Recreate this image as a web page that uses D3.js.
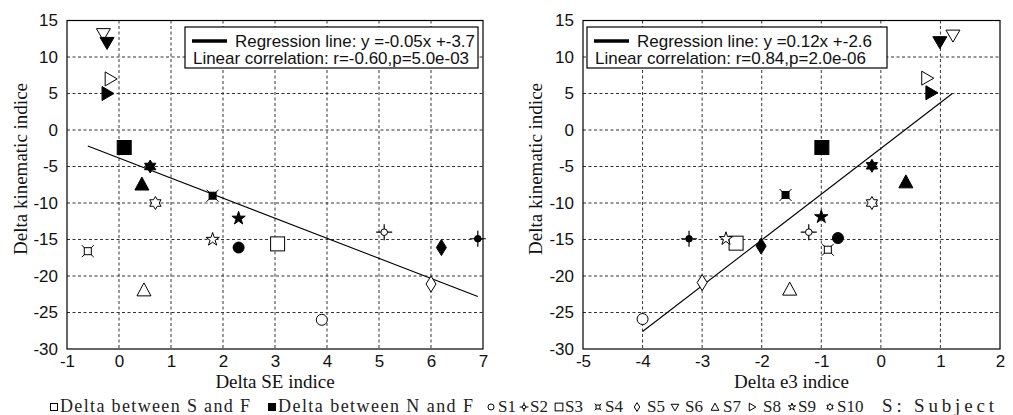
<!DOCTYPE html>
<html lang="en">
<head>
  <meta charset="UTF-8">
  <title>Delta kinematic indice</title>
  <style>
    body { margin: 0; background: #fff; }
    .tick text { font-family: "Liberation Sans", Arial, sans-serif; font-size: 17px; fill: #111; }
    .ttl { font-family: "Liberation Serif", "Times New Roman", serif; font-size: 19px; fill: #111; }
    .lg { font-family: "Liberation Sans", Arial, sans-serif; font-size: 17px; fill: #111; }
    .blg { font-family: "Liberation Serif", "Times New Roman", serif; font-size: 18px; fill: #222; }
  </style>
</head>
<body>
<svg width=1013 height=415 id="viz"></svg>
<script src="https://d3js.org/d3.v7.min.js"></script>
<script>
/* global d3 */

// subjects + marker shape of each one
const subjects = ["S1", "S2", "S3", "S4", "S5", "S6", "S7", "S8", "S9", "S10"];
const shapes = ["circle", "crossCircle", "square", "xSquare", "diamond", "triDown", "triUp", "triRight", "star", "hexagram"];

// left panel : Delta SE indice (open = S-F, filled = N-F)
const seSFx = [3.9, 5.1, 3.05, -0.6, 6.0, -0.3, 0.48, -0.17, 1.8, 0.7];
const seSFy = [-26, -14, -15.6, -16.6, -21.1, 13.2, -21.9, 7, -15, -10];
const seNFx = [2.3, 6.9, 0.1, 1.8, 6.2, -0.23, 0.44, -0.23, 2.3, 0.6];
const seNFy = [-16.1, -14.9, -2.4, -9, -16.1, 12, -7.4, 5, -12.1, -5];
const seFitX = [-0.6, 6.9];
const seFitY = [-2.2, -22.8];
const seText = ["Regression line: y =-0.05x +-3.7", "Linear correlation: r=-0.60,p=5.0e-03"];

// right panel : Delta e3 indice
const e3SFx = [-4.0, -1.21, -2.43, -0.89, -3.0, 1.21, -1.53, 0.77, -2.6, -0.15];
const e3SFy = [-25.9, -14, -15.5, -16.4, -20.9, 13, -21.8, 7.1, -14.9, -10];
const e3NFx = [-0.72, -3.22, -0.99, -1.6, -2.01, 0.99, 0.42, 0.84, -1.0, -0.15];
const e3NFy = [-14.8, -14.9, -2.4, -8.9, -15.9, 12.1, -7.1, 5.1, -11.9, -4.9];
const e3FitX = [-4.0, 1.2];
const e3FitY = [-27.6, 5.0];
const e3Text = ["Regression line: y =0.12x +-2.6", "Linear correlation: r=0.84,p=2.0e-06"];

const yTicks = [-30, -25, -20, -15, -10, -5, 0, 5, 10, 15];
const seTicks = [-1, 0, 1, 2, 3, 4, 5, 6, 7];
const e3Ticks = [-5, -4, -3, -2, -1, 0, 1, 2];

const legendLabels = ["Delta between S and F", "Delta between N and F"].concat(subjects).concat(["S: Subject"]);
const legendShapes = ["square", "square"].concat(shapes).concat([null]);
const legendFilled = [false, true, false, false, false, false, false, false, false, false, false, false, false];

let svg = d3.select("#viz");

function hexPath(r) {
  let pts = [];
  for (let i = 0; i < 12; i++) {
    let a = -Math.PI / 2 + i * Math.PI / 6;
    let rr = i % 2 === 0 ? r : r * 0.58;
    pts.push([rr * Math.cos(a), rr * Math.sin(a)]);
  }
  return "M" + pts.join("L") + "Z";
}

function marker(g, type, filled, s) {
  let fill = filled ? "#000" : "#fff";
  let m = g.append("g");
  let st = el => el.attr("fill", fill).attr("stroke", "#000").attr("stroke-width", 1);
  switch (type) {
    case "circle":
      st(m.append("circle").attr("r", 5.5 * s));
      break;
    case "crossCircle":
      m.append("path").attr("d", `M${-8 * s},0H${8 * s}M0,${-8 * s}V${8 * s}`).attr("stroke", "#000").attr("stroke-width", 1.2);
      st(m.append("circle").attr("r", 3.3 * s));
      break;
    case "square":
      st(m.append("rect").attr("x", -7 * s).attr("y", -7 * s).attr("width", 14 * s).attr("height", 14 * s));
      break;
    case "xSquare":
      m.append("path").attr("d", `M${-6 * s},${-6 * s}L${6 * s},${6 * s}M${-6 * s},${6 * s}L${6 * s},${-6 * s}`).attr("stroke", "#000").attr("stroke-width", 1);
      st(m.append("rect").attr("x", -3.5 * s).attr("y", -3.5 * s).attr("width", 7 * s).attr("height", 7 * s));
      break;
    case "diamond":
      st(m.append("path").attr("d", `M0,${-8 * s}L${5 * s},0L0,${8 * s}L${-5 * s},0Z`));
      break;
    case "triDown":
      st(m.append("path").attr("d", `M${-7 * s},${-5 * s}L${7 * s},${-5 * s}L0,${7 * s}Z`));
      break;
    case "triUp":
      st(m.append("path").attr("d", `M${-7 * s},${6 * s}L${7 * s},${6 * s}L0,${-7 * s}Z`));
      break;
    case "triRight":
      st(m.append("path").attr("d", `M${-5 * s},${-7 * s}L${-5 * s},${7 * s}L${7 * s},0Z`));
      break;
    case "star":
      st(m.append("path").attr("d", d3.symbol(d3.symbolStar, 55 * s * s)()));
      break;
    case "hexagram":
      st(m.append("path").attr("d", hexPath(6.5 * s)));
      break;
  }
  return m;
}

function panel(left, right, xDomain, xTicks, sfX, sfY, nfX, nfY, fitX, fitY, boxText, boxX, boxW, textW, xTitle, yTitleX) {
  let top = 20.5, bottom = 349;
  let x = d3.scaleLinear().domain(xDomain).range([left, right]);
  let y = d3.scaleLinear().domain([-30, 15]).range([bottom, top]);
  let g = svg.append("g");

  // dashed grid
  g.append("g").selectAll("line").data(xTicks.slice(1, -1)).enter().append("line")
    .attr("x1", d => x(d)).attr("x2", d => x(d)).attr("y1", top).attr("y2", bottom)
    .attr("stroke", "#333").attr("stroke-dasharray", "3,2.5");
  g.append("g").selectAll("line").data(yTicks.slice(1, -1)).enter().append("line")
    .attr("y1", d => y(d)).attr("y2", d => y(d)).attr("x1", left).attr("x2", right)
    .attr("stroke", "#333").attr("stroke-dasharray", "3,2.5");

  g.append("rect").attr("x", left).attr("y", top).attr("width", right - left).attr("height", bottom - top)
    .attr("fill", "none").attr("stroke", "#000").attr("stroke-width", 1.2);

  let ya = g.append("g").attr("transform", "translate(" + left + ",0)")
    .call(d3.axisLeft(y).tickValues(yTicks).tickSize(0).tickPadding(9).tickFormat(d3.format("d")));
  ya.select(".domain").remove();
  let xa = g.append("g").attr("transform", "translate(0," + bottom + ")")
    .call(d3.axisBottom(x).tickValues(xTicks).tickSize(0).tickPadding(6).tickFormat(d3.format("d")));
  xa.select(".domain").remove();
  svg.selectAll(".tick text").text(function () { return this.textContent.replace("−", "-"); });

  // regression line
  g.append("line").attr("x1", x(fitX[0])).attr("y1", y(fitY[0])).attr("x2", x(fitX[1])).attr("y2", y(fitY[1]))
    .attr("stroke", "#000").attr("stroke-width", 1.1);

  // points
  subjects.forEach((s, i) => {
    marker(g, shapes[i], false, 1).attr("transform", `translate(${x(sfX[i])},${y(sfY[i])})`);
    marker(g, shapes[i], true, 1).attr("transform", `translate(${x(nfX[i])},${y(nfY[i])})`);
  });

  // legend box
  let lb = g.append("g");
  lb.append("rect").attr("x", boxX).attr("y", 27).attr("width", boxW).attr("height", 41)
    .attr("fill", "#fff").attr("stroke", "#000").attr("stroke-width", 1.2);
  lb.append("line").attr("x1", boxX + 7).attr("x2", boxX + 42).attr("y1", 41).attr("y2", 41)
    .attr("stroke", "#000").attr("stroke-width", 3.5);
  lb.append("text").attr("class", "lg").attr("x", boxX + 50).attr("y", 47).text(boxText[0])
    .attr("textLength", textW[0]).attr("lengthAdjust", "spacingAndGlyphs");
  lb.append("text").attr("class", "lg").attr("x", boxX + 8).attr("y", 64).text(boxText[1])
    .attr("textLength", textW[1]).attr("lengthAdjust", "spacingAndGlyphs");

  g.append("text").attr("class", "ttl").attr("x", (left + right) / 2).attr("y", 388)
    .attr("text-anchor", "middle").text(xTitle);
  g.append("text").attr("class", "ttl").attr("text-anchor", "middle")
    .attr("transform", `translate(${yTitleX},169) rotate(-90)`).attr("dy", "0.35em").text("Delta kinematic indice");
}

panel(67, 483, [-1, 7], seTicks, seSFx, seSFy, seNFx, seNFy, seFitX, seFitY, seText, 185, 293, [240, 276], "Delta SE indice", 20);
panel(583, 1000, [-5, 2], e3Ticks, e3SFx, e3SFy, e3NFx, e3NFy, e3FitX, e3FitY, e3Text, 587, 300, [235, 271], "Delta e3 indice", 535);

// bottom legend (layout positions)
const legMarkX = [54, 272, 491, 524, 559, 598, 637, 675, 715, 752, 792, 830, null];
const legTextX = [60, 278, 498, 530, 565, 605, 647, 685, 723, 763, 798, 837, 882];
const legTextW = [190, 195, 0, 0, 0, 0, 0, 0, 0, 0, 0, 0, 112];
let bl = svg.append("g");
legendLabels.forEach((lab, i) => {
  if (legendShapes[i]) {
    marker(bl, legendShapes[i], legendFilled[i], i < 2 ? 0.5 : 0.55).attr("transform", `translate(${legMarkX[i]},407)`);
  }
  let t = bl.append("text").attr("class", "blg").attr("x", legTextX[i]).attr("y", 412).text(lab);
  if (i >= 2 && i < 12) t.style("font-size", "17px");
  if (i === 12) t.style("font-size", "19px");
  if (legTextW[i]) t.attr("textLength", legTextW[i]).attr("lengthAdjust", "spacing");
});
</script>
</body>
</html>
